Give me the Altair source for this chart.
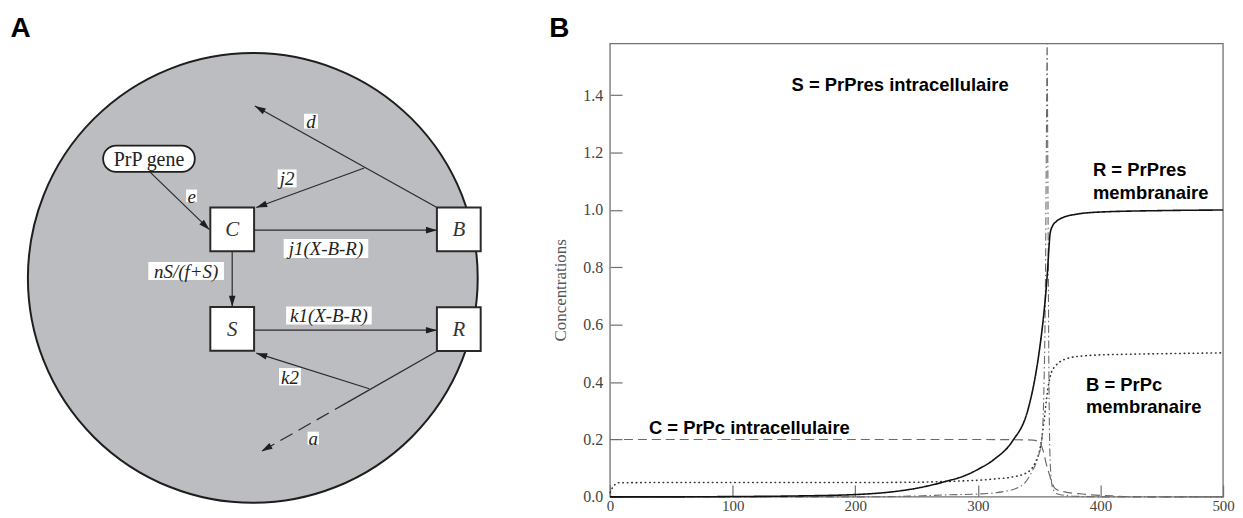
import altair as alt
import pandas as pd

# ================= Panel B : simulated concentrations =================
R_x = [0, 50, 100, 150, 200, 233, 250, 274, 290, 301, 314, 328, 341, 346, 349.5, 353.6, 355, 357, 358, 359, 361, 364, 370, 380, 400, 450, 500]
R_y = [0, 0, 0.001, 0.003, 0.008, 0.019, 0.03, 0.054, 0.075, 0.098, 0.133, 0.193, 0.306, 0.40, 0.49, 0.63, 0.69, 0.80, 0.87, 0.92, 0.945, 0.96, 0.975, 0.985, 0.993, 0.998, 1.0]

B_x = [0, 2, 4, 6, 50, 100, 200, 250, 270, 290, 301, 315, 328, 341, 347, 350, 352, 354, 356, 358, 360, 363, 366, 370, 376, 385, 395, 420, 450, 500]
B_y = [0.015, 0.032, 0.043, 0.049, 0.05, 0.05, 0.05, 0.051, 0.053, 0.056, 0.058, 0.063, 0.069, 0.087, 0.121, 0.155, 0.2, 0.265, 0.34, 0.40, 0.434, 0.455, 0.468, 0.478, 0.486, 0.491, 0.494, 0.497, 0.499, 0.502]

C_x = [0, 100, 200, 300, 345, 349, 351, 353.6, 355.5, 357.7, 360, 363, 368, 374, 385, 396, 410, 423, 450, 500]
C_y = [0.2, 0.2, 0.2, 0.2, 0.198, 0.193, 0.185, 0.156, 0.12, 0.087, 0.055, 0.029, 0.02, 0.015, 0.01, 0.006, 0.003, 0.001, 0, 0]

S_x = [0, 100, 200, 250, 276, 301, 322, 336, 344, 349.5, 352.2, 354, 355, 356, 356.5, 357, 358, 359, 361, 365, 380, 400, 500]
S_y = [0, 0, 0, 0.003, 0.007, 0.01, 0.019, 0.04, 0.087, 0.144, 0.2, 0.4, 0.69, 1.3, 2.5, 1.2, 0.4, 0.12, 0.03, 0.01, 0.002, 0, 0]

ann_text = ["S = PrPres intracellulaire", "R = PrPres", "membranaire", "B = PrPc", "membranaire", "C = PrPc intracellulaire"]
ann_x = [148.0, 393.9, 393.9, 388.2, 388.2, 31.7]
ann_y = [1.414, 1.118, 1.040, 0.368, 0.293, 0.218]

X_TICKS = [0, 100, 200, 300, 400, 500]
Y_TICKS = [0.0, 0.2, 0.4, 0.6, 0.8, 1.0, 1.2, 1.4]
X_RANGE = [0, 500]
Y_FRAME = [0, 1.58]
Y_VIEW_TOP = 1.70

# ================= Panel A : model diagram =================
node_names = ["C", "B", "S", "R"]
node_x = [233.3, 461, 233.3, 461]
node_y = [229.2, 229.2, 329.2, 329.5]

gene_text = ["PrP gene"]
gene_x = [103.6, 195.7]
gene_y = [145, 171.5]

cell_x = [254]
cell_y = [278]

arr_x1 = [151, 366, 439, 255.3, 233.3, 255.3, 371, 439.5, 348.6]
arr_y1 = [172, 167.6, 207.3, 230, 251.2, 330.5, 389.4, 351.5, 403.3]
arr_x2 = [210.5, 257.5, 256, 439, 233.3, 439, 257.5, 348.6, 262.7]
arr_y2 = [229.5, 207.3, 105.3, 230, 307, 330.5, 353.6, 403.3, 452.3]
arr_dashed = [False, False, False, False, False, False, False, False, True]
arr_head = [True, True, True, True, True, True, True, False, True]

lab_text = ["d", "j2", "e", "j1(X-B-R)", "nS/(f+S)", "k1(X-B-R)", "k2", "a"]
lab_x = [312.5, 288.5, 192.5, 327.5, 187, 330.5, 291.3, 314.7]
lab_y = [120.5, 178, 195.5, 248.4, 271, 315.7, 377.3, 439]
lab_w = [14, 19, 11, 85, 76, 86, 22, 11.4]
lab_h = [15, 18, 12.7, 19, 18, 18, 17.5, 13]

panel_text = ["A", "B"]
panel_x = [10.5, 552]
panel_y = [36, 36]

# ---------------------------------------------------------------
SERIF = "Liberation Serif"
SANS = "Liberation Sans"

# ---- Panel A ----
WA, HA = 605, 490
xa = alt.Scale(domain=[8, 8 + WA], nice=False, zero=False)
ya = alt.Scale(domain=[8, 8 + HA], nice=False, zero=False, reverse=True)


def XA(f):
    return alt.X(f, type="quantitative", scale=xa, axis=None)


def YA(f):
    return alt.Y(f, type="quantitative", scale=ya, axis=None)


cell = alt.Chart(pd.DataFrame({"x": cell_x, "y": cell_y})).mark_point(
    shape="circle", filled=True, size=452 ** 2, fill="#bcbdc1", stroke="#1e1e1e",
    strokeWidth=2, opacity=1
).encode(x=XA("x"), y=YA("y"))

arr_df = pd.DataFrame({"x1": arr_x1, "y1": arr_y1, "x2": arr_x2, "y2": arr_y2,
                       "dashed": arr_dashed, "head": arr_head})

solid_lines = alt.Chart(arr_df).transform_filter("!datum.dashed").mark_rule(
    color="#2a2a2a", strokeWidth=1.2
).encode(x=XA("x1"), y=YA("y1"), x2="x2", y2="y2")

dashed_lines = alt.Chart(arr_df).transform_filter("datum.dashed").mark_rule(
    color="#2a2a2a", strokeWidth=1.2, strokeDash=[14, 7]
).encode(x=XA("x1"), y=YA("y1"), x2="x2", y2="y2")

heads = alt.Chart(arr_df).transform_filter("datum.head").transform_calculate(
    ang="(atan2(datum.x2 - datum.x1, datum.y1 - datum.y2) * 180 / PI + 360) % 360"
).mark_point(
    shape="M0,0L-0.3,1L0.3,1Z", filled=True, size=484, color="#1e1e1e", opacity=1
).encode(x=XA("x2"), y=YA("y2"), angle=alt.Angle("ang:Q", scale=None))

lab_df = pd.DataFrame({"t": lab_text, "cx": lab_x, "cy": lab_y, "w": lab_w, "h": lab_h})
lab_bg = alt.Chart(lab_df).transform_calculate(
    xa1="datum.cx - datum.w/2", xa2="datum.cx + datum.w/2",
    ya1="datum.cy - datum.h/2", ya2="datum.cy + datum.h/2"
).mark_rect(fill="white", opacity=1).encode(x=XA("xa1"), x2="xa2", y=YA("ya1"), y2="ya2")
lab_txt = alt.Chart(lab_df).mark_text(
    font=SERIF, fontStyle="italic", fontSize=19, color="#222", baseline="middle", align="center", dy=1
).encode(x=XA("cx"), y=YA("cy"), text="t:N")

gene_df = pd.DataFrame({"t": gene_text, "x1": [gene_x[0]], "x2": [gene_x[1]],
                        "y1": [gene_y[0]], "y2": [gene_y[1]]})
gene_box = alt.Chart(gene_df).mark_rect(
    fill="white", stroke="#1e1e1e", strokeWidth=1.8, cornerRadius=13, opacity=1
).encode(x=XA("x1"), x2="x2", y=YA("y1"), y2="y2")
gene_txt = alt.Chart(gene_df).transform_calculate(
    cx="(datum.x1 + datum.x2)/2", cy="(datum.y1 + datum.y2)/2"
).mark_text(font=SERIF, fontSize=20, color="#222", baseline="middle", align="center", dy=1
).encode(x=XA("cx"), y=YA("cy"), text="t:N")

node_df = pd.DataFrame({"n": node_names, "x": node_x, "y": node_y})
boxes = alt.Chart(node_df).mark_square(
    size=44 ** 2, fill="white", stroke="#2a2a2a", strokeWidth=2, opacity=1
).encode(x=XA("x"), y=YA("y"))
box_txt = alt.Chart(node_df).mark_text(
    font=SERIF, fontStyle="italic", fontSize=21, color="#333", baseline="middle", align="center", dy=1
).encode(x=XA("x"), y=YA("y"), text="n:N")

ptxt = alt.Chart(pd.DataFrame({"t": panel_text, "x": panel_x, "y": panel_y})).mark_text(
    font=SANS, fontWeight="bold", fontSize=28, color="black", align="left", baseline="alphabetic"
).encode(x=XA("x"), y=YA("y"), text="t:N")

panelA = alt.layer(
    cell, solid_lines, dashed_lines, heads, lab_bg, lab_txt, gene_box, gene_txt, boxes, box_txt, ptxt
).properties(width=WA, height=HA)

# ---- Panel B ----
WB, HB = 616, 490
xs = alt.Scale(domain=X_RANGE, nice=False, zero=False)
ys = alt.Scale(domain=[0, Y_VIEW_TOP], nice=False, zero=False)
TICK_COL = "#707070"
x_axis = alt.Axis(values=X_TICKS, format="d", offset=-12, tickSize=12, labelPadding=2,
                  domain=False, grid=False, tickColor=TICK_COL, tickWidth=1.2,
                  labelFont=SERIF, labelFontSize=15, labelColor="#444", labelFlush=False,
                  title=None)
y_axis = alt.Axis(values=Y_TICKS, format=".1f", offset=-12, tickSize=12, labelPadding=7.5,
                  domain=False, grid=False, tickColor=TICK_COL, tickWidth=1.2,
                  labelFont=SERIF, labelFontSize=16, labelColor="#444",
                  title="Concentrations", titleFont=SERIF, titleFontSize=17,
                  titleFontWeight="normal", titleColor="#555", titleBaseline="middle",
                  titleX=-62, titleY=282)


def XB(f):
    return alt.X(f, type="quantitative", scale=xs, axis=x_axis)


def YB(f):
    return alt.Y(f, type="quantitative", scale=ys, axis=y_axis)


frame = alt.Chart(pd.DataFrame({"x": [X_RANGE[0]], "x2": [X_RANGE[1]],
                                "y": [Y_FRAME[0]], "y2": [Y_FRAME[1]]})).mark_rect(
    fillOpacity=0, stroke=TICK_COL, strokeWidth=1.3
).encode(x=XB("x"), x2="x2", y=YB("y"), y2="y2")


def series_line(xv, yv, color, width, dash, cap="butt"):
    df = pd.DataFrame({"x": xv, "y": yv})
    return alt.Chart(df).transform_calculate(
        yc=f"min(datum.y, {Y_FRAME[1]})"
    ).mark_line(color=color, strokeWidth=width, strokeDash=dash, strokeCap=cap,
                interpolate="monotone").encode(x=XB("x"), y=YB("yc"))


lineC = series_line(C_x, C_y, "#6a6a6a", 1.2, [9, 5])
lineB = series_line(B_x, B_y, "#333333", 1.6, [0.5, 4], cap="round")
lineS = series_line(S_x, S_y, "#6a6a6a", 1.1, [8, 3, 1.5, 3])
lineR = series_line(R_x, R_y, "#111111", 1.6, [1, 0])

ann = alt.Chart(pd.DataFrame({"t": ann_text, "x": ann_x, "y": ann_y})).mark_text(
    font=SANS, fontWeight="bold", fontSize=18.5, color="black", align="left", baseline="alphabetic"
).encode(x=XB("x"), y=YB("y"), text="t:N")

panelB = alt.layer(frame, lineC, lineB, lineS, lineR, ann).properties(width=WB, height=HB)

chart = alt.hconcat(panelA, panelB, spacing=0, bounds="flush").properties(
    padding=0, background="white"
).configure_view(strokeWidth=0)

chart.save("out.html", embed_options={"renderer": "svg", "actions": False})
